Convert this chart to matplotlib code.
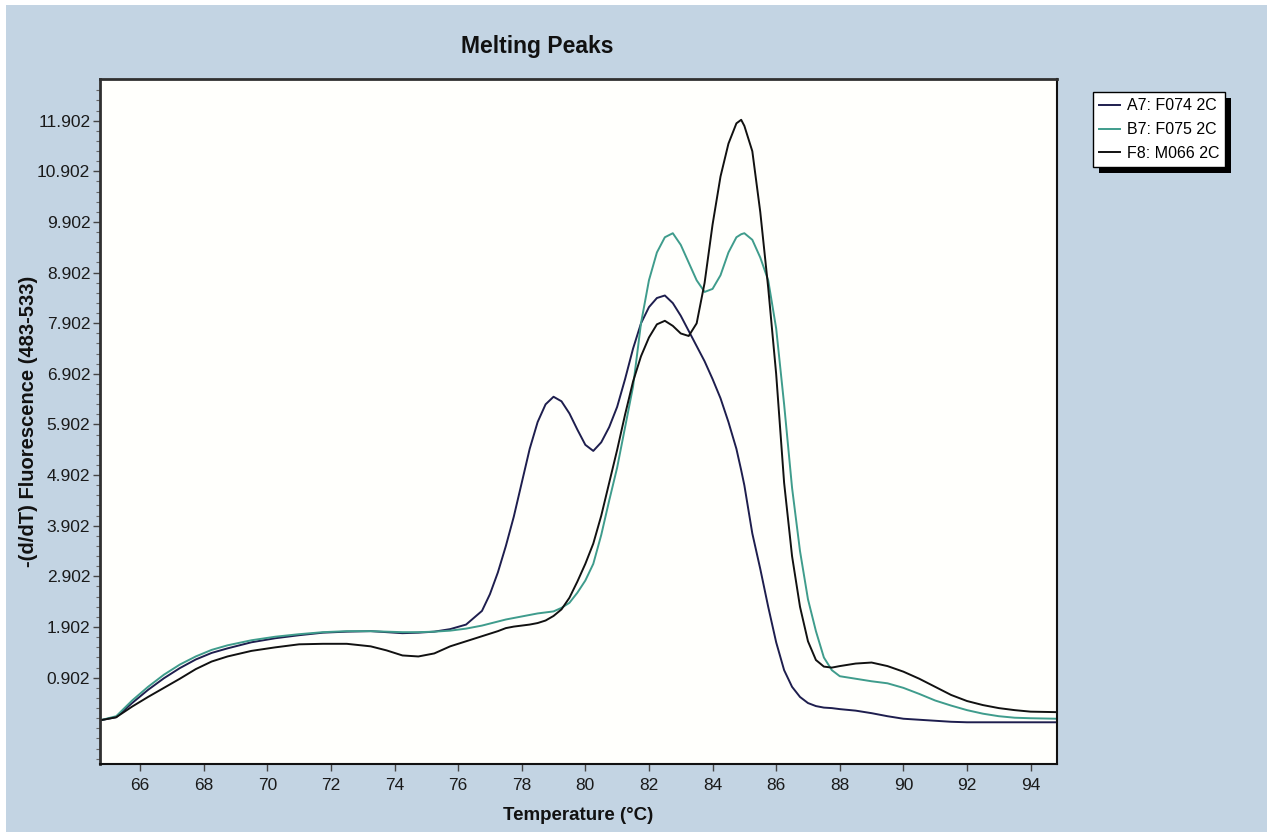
import matplotlib
matplotlib.use("Agg")
import matplotlib.pyplot as plt
from matplotlib import font_manager
from matplotlib.patches import Rectangle

# ---------------- data ----------------
temps = [64.75, 65.25, 65.75, 66.25, 66.75, 67.25, 67.75, 68.25, 68.75, 69.5,
         70.25, 71.0, 71.75, 72.5, 73.25, 73.75, 74.25, 74.75, 75.25, 75.75,
         76.25, 76.75, 77.0, 77.25, 77.5, 77.75, 78.0, 78.25, 78.5, 78.75,
         79.0, 79.25, 79.5, 79.75, 80.0, 80.25, 80.5, 80.75, 81.0, 81.25,
         81.5, 81.75, 82.0, 82.25, 82.5, 82.75, 83.0, 83.25, 83.5, 83.75,
         84.0, 84.25, 84.5, 84.75, 84.9, 85.0, 85.25, 85.5, 85.75, 86.0,
         86.25, 86.5, 86.75, 87.0, 87.25, 87.5, 87.75, 88.0, 88.5, 89.0,
         89.5, 90.0, 90.5, 91.0, 91.5, 92.0, 92.5, 93.0, 93.5, 94.0, 94.83]

a7_f074 = [0.06, 0.12, 0.40, 0.66, 0.89, 1.09, 1.26, 1.39, 1.48, 1.60,
           1.68, 1.74, 1.79, 1.81, 1.82, 1.80, 1.78, 1.79, 1.81, 1.86,
           1.95, 2.22, 2.55, 2.98, 3.50, 4.08, 4.75, 5.42, 5.95, 6.30,
           6.45, 6.36, 6.12, 5.80, 5.50, 5.38, 5.55, 5.85, 6.25, 6.80,
           7.40, 7.90, 8.22, 8.40, 8.45, 8.30, 8.05, 7.75, 7.45, 7.15,
           6.80, 6.42, 5.95, 5.42, 5.00, 4.70, 3.75, 3.05, 2.30, 1.60,
           1.05, 0.72, 0.52, 0.40, 0.34, 0.31, 0.30, 0.28, 0.25, 0.20,
           0.14, 0.09, 0.07, 0.05, 0.03, 0.02, 0.02, 0.02, 0.02, 0.02, 0.02]

b7_f075 = [0.06, 0.14, 0.45, 0.72, 0.96, 1.16, 1.32, 1.45, 1.54, 1.64,
           1.71, 1.76, 1.80, 1.82, 1.82, 1.81, 1.80, 1.80, 1.81, 1.83,
           1.87, 1.93, 1.97, 2.01, 2.05, 2.08, 2.11, 2.14, 2.17, 2.19,
           2.21, 2.28, 2.38, 2.58, 2.82, 3.15, 3.72, 4.40, 5.05, 5.85,
           6.65, 7.90, 8.75, 9.30, 9.60, 9.68, 9.45, 9.10, 8.75, 8.52,
           8.58, 8.85, 9.30, 9.60, 9.66, 9.68, 9.55, 9.20, 8.75, 7.80,
           6.30, 4.65, 3.40, 2.45, 1.82, 1.30, 1.05, 0.93, 0.88, 0.83,
           0.79, 0.70, 0.58, 0.45, 0.35, 0.26, 0.19, 0.14, 0.11, 0.10, 0.09]

f8_m066 = [0.06, 0.12, 0.33, 0.52, 0.70, 0.88, 1.07, 1.22, 1.32, 1.43,
           1.50, 1.56, 1.57, 1.57, 1.52, 1.44, 1.34, 1.32, 1.38, 1.52,
           1.62, 1.72, 1.77, 1.82, 1.88, 1.91, 1.93, 1.95, 1.98, 2.03,
           2.12, 2.25, 2.48, 2.80, 3.15, 3.55, 4.10, 4.75, 5.40, 6.10,
           6.75, 7.25, 7.62, 7.88, 7.95, 7.85, 7.70, 7.65, 7.90, 8.70,
           9.85, 10.80, 11.45, 11.85, 11.92, 11.80, 11.30, 10.10, 8.60, 6.90,
           4.75, 3.30, 2.30, 1.62, 1.25, 1.12, 1.10, 1.13, 1.18, 1.20,
           1.13, 1.02, 0.88, 0.72, 0.56, 0.44, 0.36, 0.30, 0.26, 0.23, 0.22]

series_labels = ["A7: F074 2C", "B7: F075 2C", "F8: M066 2C"]
x_ticks = [66, 68, 70, 72, 74, 76, 78, 80, 82, 84, 86, 88, 90, 92, 94]
y_ticks = [0.902, 1.902, 2.902, 3.902, 4.902, 5.902, 6.902, 7.902, 8.902,
           9.902, 10.902, 11.902]

# ---------------- fonts ----------------
def pick(names):
    for n in names:
        try:
            font_manager.findfont(n, fallback_to_default=False)
            return n
        except Exception:
            continue
    return "DejaVu Sans"

narrow = pick(["Liberation Sans Narrow", "Liberation Sans", "Arial"])
regular = pick(["Liberation Sans", "Arial"])

W, H = 1267, 832
fig = plt.figure(figsize=(W / 100, H / 100), dpi=100)
fig.patch.set_facecolor("white")
fig.patches.append(Rectangle((6 / W, 0), 1, 1 - 5 / H, transform=fig.transFigure,
                             facecolor="#c3d4e3", edgecolor="none", zorder=-10))

ax = fig.add_axes([100 / W, 1 - 764 / H, (1057 - 100) / W, (764 - 79) / H])
ax.set_facecolor("#fffffc")

colors = ["#1e1e4e", "#3f9c8c", "#111111"]
for vals, lab, c in zip([a7_f074, b7_f075, f8_m066], series_labels, colors):
    ax.plot(temps, vals, color=c, lw=1.4, label=lab)

ax.set_xlim(64.74, 94.83)
ax.set_ylim(-0.804, 12.726)

ax.set_xticks(x_ticks)
ax.set_xticklabels([str(t) for t in x_ticks])
ax.set_yticks(y_ticks)
ax.set_yticklabels([f"{v:.3f}" for v in y_ticks])
minor = [round(-0.698 + 0.2 * i, 3) for i in range(67)]
ax.set_yticks([m for m in minor if -0.80 < m < 12.72], minor=True)

ax.tick_params(axis="both", which="major", direction="out", length=5, width=1,
               color="#444444", labelsize=12.5, labelcolor="#1a1a1a", pad=2)
ax.tick_params(axis="x", which="major", pad=5)
ax.tick_params(axis="y", which="minor", direction="out", length=3, width=0.8,
               color="#666666")
for lbl in ax.get_xticklabels() + ax.get_yticklabels():
    lbl.set_fontfamily(narrow)

for side in ["left", "top"]:
    ax.spines[side].set_linewidth(2.0)
    ax.spines[side].set_color("#303030")
for side in ["right", "bottom"]:
    ax.spines[side].set_linewidth(1.5)
    ax.spines[side].set_color("#111111")

ax.set_xlabel("Temperature (°C)", fontsize=13.5, fontweight="bold",
              family=narrow, labelpad=10, color="#111111")
ax.set_ylabel("-(d/dT) Fluorescence (483-533)", fontsize=14.5, fontweight="bold",
              family=regular, color="#111111")
ax.yaxis.set_label_coords(-62 / 957, 0.5)

fig.text(537 / W, 1 - 47 / H, "Melting Peaks", fontsize=16.5, fontweight="bold",
         family=regular, ha="center", va="center", color="#111111")

leg = fig.legend(loc="upper left", bbox_to_anchor=(1093 / W, 1 - 92 / H),
                 bbox_transform=fig.transFigure, fancybox=False, frameon=True,
                 edgecolor="black", framealpha=1, facecolor="white",
                 prop={"family": narrow, "size": 11.5}, handlelength=1.3,
                 handletextpad=0.4, labelspacing=0.55, borderpad=0.4,
                 borderaxespad=0)
leg.get_frame().set_linewidth(1.0)

fig.canvas.draw()
bb = leg.get_window_extent()
fig.patches.append(Rectangle(((bb.x0 + 6) / W, (bb.y0 - 6) / H),
                             bb.width / W, bb.height / H,
                             transform=fig.transFigure, facecolor="black",
                             edgecolor="none", zorder=4))

fig.savefig("out.png", dpi=100, facecolor=fig.get_facecolor())
